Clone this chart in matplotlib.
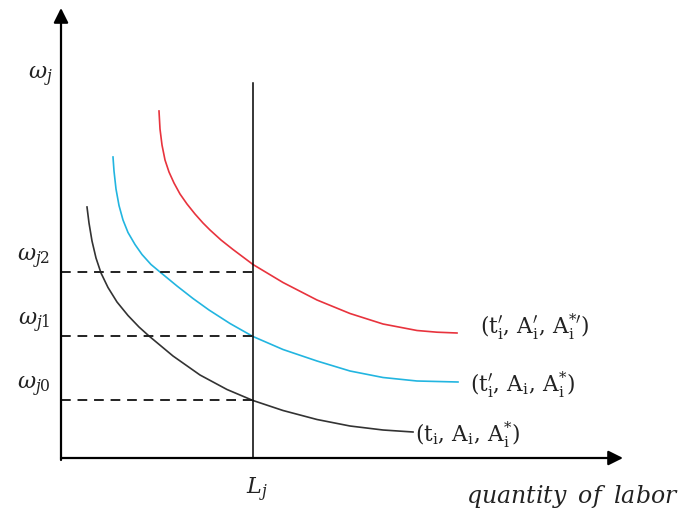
import matplotlib
matplotlib.use("Agg")
import matplotlib.pyplot as plt

plt.rcParams['mathtext.fontset'] = 'dejavuserif'

# curves (x = quantity of labor, y = wage)
black_x = [26, 28, 31, 35, 40, 47, 56, 67, 78, 88, 112, 139, 166, 192, 222, 256, 289, 322, 352]
black_y = [251, 235, 217, 200, 185, 170.5, 156, 142.5, 131, 122, 102, 83, 68.5, 57.5, 47.5, 38.5, 32, 28, 26]
blue_x = [52, 53, 55, 58, 62, 67, 74, 81, 90, 99, 116, 132, 148, 169, 192, 222, 256, 289, 322, 356, 397]
blue_y = [301, 287, 269, 252.5, 238, 225.5, 213.5, 203.5, 193.5, 186, 172, 159.5, 148, 134.5, 121.5, 108.5, 97, 87, 80.5, 77, 76]
red_x = [98, 99, 101, 104, 108, 113, 119, 126, 134, 142, 149, 160, 172, 192, 222, 256, 289, 322, 356, 376, 396]
red_y = [347, 329, 313, 298, 286, 275, 264, 254, 244, 235, 228, 218, 208.5, 193.5, 175.5, 158, 144.5, 134, 127.5, 125.8, 125]

L_j = 192
wage_levels = [58, 122, 186]
wage_labels = [r'$\omega_{j0}$', r'$\omega_{j1}$', r'$\omega_{j2}$']
curve_labels = [r"$(\mathrm{t_i},\,\mathrm{A_i},\,\mathrm{A_i^{*}})$",
                r"$(\mathrm{t_i'},\,\mathrm{A_i},\,\mathrm{A_i^{*}})$",
                r"$(\mathrm{t_i'},\,\mathrm{A_i'},\,\mathrm{A_i^{*\prime}})$"]

fig = plt.figure(figsize=(6.89, 5.13), dpi=100)
ax = fig.add_axes([0, 0, 1, 1])
ax.set_xlim(-61, 628)
ax.set_ylim(-55, 458)
ax.axis('off')

# axes with arrows
arrow = dict(arrowstyle='-|>', mutation_scale=22, lw=1.6, color='black', shrinkA=0, shrinkB=0)
ax.annotate('', xy=(562, 0), xytext=(0, 0), arrowprops=arrow)
ax.annotate('', xy=(0, 450), xytext=(0, -2), arrowprops=arrow)

ax.plot(black_x, black_y, color='#333333', lw=1.2, solid_joinstyle='round')
ax.plot(blue_x, blue_y, color='#22b5e0', lw=1.2, solid_joinstyle='round')
ax.plot(red_x, red_y, color='#e8333d', lw=1.2, solid_joinstyle='round')

ax.plot([L_j, L_j], [0, 375], color='black', lw=1.1)
for w, lab in zip(wage_levels, wage_labels):
    ax.plot([0, L_j], [w, w], color='#222222', lw=1.4, ls=(0, (5, 3.5)))
    ax.text(-27, w + 13, lab, fontsize=16, ha='center', va='center', color='#222222')

ax.text(-21, 381, r'$\omega_j$', fontsize=16, ha='center', va='center', color='#222222')
ax.text(196, -32, r'$L_j$', fontsize=16, ha='center', va='center', color='#222222')
ax.text(511, -38, r'$quantity\;\;of\;\;labor$', fontsize=17, ha='center', va='center', color='#222222')

ax.text(354, 23, curve_labels[0], fontsize=15.5, ha='left', va='center', color='#222222')
ax.text(409, 73, curve_labels[1], fontsize=15.5, ha='left', va='center', color='#222222')
ax.text(419, 131, curve_labels[2], fontsize=15.5, ha='left', va='center', color='#222222')

fig.savefig('out.png', dpi=100)
